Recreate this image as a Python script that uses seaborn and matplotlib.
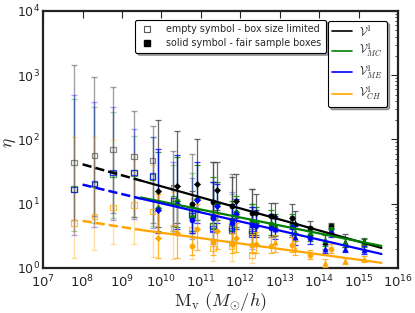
import matplotlib
matplotlib.use("Agg")
import matplotlib.pyplot as plt
from matplotlib.lines import Line2D
import seaborn as sns
import numpy as np

# ---------------- data ----------------
M_EMPTY = [6e7, 2e8, 6e8, 2e9, 6e9, 2e10, 6e10, 2e11, 6e11, 2e12]
V1_E = [44, 56, 70, 54, 47, 18, 8, 4.5, 4.1, 3.7]
MC_E = [17, 20, 29, 30, 26, 12, 7, 4.6, 4.3, 3.9]
ME_E = [16.5, 20.5, 30.5, 30.5, 27, 11, 6.5, 4.0, 3.8, 3.4]
CH_E = [5.0, 6.3, 8.7, 9.6, 7.5, 4.2, 3.9, 2.0, 2.2, 1.6]
V1_E_HI = [1440, 930, 650, 275, 160, 65, 60, 45, 29, 17]
MC_E_HI = [420, 315, 265, 115, 108, 40, 30, 22, 14, 10]
ME_E_HI = [490, 380, 315, 145, 110, 44, 25, 22, 15, 9]
CH_E_HI = [110, 108, 97, 60, 40, 15, 12, 8, 6, 4]
V1_E_LO = [5.5, 6.5, 7.2, 6.3, 5.0, 4.5, 3.5, 2.8, 2.6, 2.4]
MC_E_LO = [3.7, 5.0, 6.0, 6.3, 4.5, 3.8, 3.0, 2.6, 2.4, 2.2]
ME_E_LO = [3.2, 4.4, 5.6, 5.8, 4.2, 3.5, 2.8, 2.4, 2.3, 2.0]
CH_E_LO = [1.43, 1.9, 2.4, 2.4, 1.5, 1.4, 1.4, 1.3, 1.3, 1.2]

M_SOLID = [8e9, 2.5e10, 6e10, 8e10, 2e11, 2.5e11, 6e11, 8e11, 2e12, 2.5e12,
           6e12, 7.5e12, 2e13, 2.5e13, 6e13, 1.4e14, 2e14, 4.6e14, 1.4e15]
MK_SOLID = ['D', 'D', 'o', 'D', 'o', 'D', 'o', 'D', 'o', 'D',
            'o', '^', 'o', '^', 'o', '^', 'o', '^', '^']
V1_S = [15.5, 19, 10, 20.6, 10.7, 16.5, 9.3, 11.1, 7.2, 7.2, 6.5, 6.5, 6.0, 5.0, 4.2, 2.5, 4.5, 2.5, 2.6]
V1_S_HI = [200, 133, 16, 100, 45, 45, 26, 29, 17, 14, 10.4, 10.4, 10, 7.8, 5.4, 3.4, 5.0, 3.4, 2.8]
V1_S_LO = [4.4, 5, 6, 8, 6, 8, 5.5, 6, 4.5, 4.5, 4.2, 4.2, 4.0, 3.5, 3.3, 2.0, 4.0, 2.1, 2.3]
MC_S = [8.6, 11, 6.2, 12, 6.5, 9.8, 5.6, 7.5, 5.3, 5.0, 4.8, 4.6, 4.8, 3.6, 3.3, 2.7, 4.0, 2.5, 2.5]
MC_S_HI = [63, 54, 10, 40, 26, 22, 11, 13, 10, 9, 8, 7, 7, 5, 4.3, 3.2, 4.8, 2.9, 2.9]
MC_S_LO = [3.8, 4.3, 3.8, 5.5, 4.0, 5.5, 3.8, 4.3, 3.5, 3.3, 3.3, 3.1, 3.3, 2.6, 2.6, 2.2, 3.4, 2.1, 2.1]
ME_S = [8.1, 10, 5.6, 11.5, 6, 9.3, 5, 7, 4.7, 4.5, 4.2, 4.0, 4.4, 3.0, 2.9, 2.0, 3.5, 2.0, 1.9]
ME_S_HI = [72, 58, 9, 45, 22, 20, 10, 12, 9, 8, 7, 6.5, 6, 4.5, 3.8, 2.4, 4.2, 2.3, 2.2]
ME_S_LO = [3.5, 4, 3.5, 5, 3.8, 5, 3.5, 4, 3.2, 3.0, 3.0, 2.8, 3.0, 2.3, 2.4, 1.7, 3.0, 1.75, 1.65]
CH_S = [2.9, 3.5, 2.2, 4.1, 2.5, 3.8, 2.4, 2.9, 2.3, 2.4, 2.2, 2.5, 2.3, 2.0, 1.6, 1.2, 2.0, 1.3, 1.4]
CH_S_HI = [14, 12, 3, 10, 6, 7, 3.5, 5, 3.4, 3.6, 3.0, 3.3, 3.0, 2.6, 1.9, 1.4, 2.4, 1.45, 1.55]
CH_S_LO = [1.43, 1.45, 1.6, 1.9, 1.6, 2.0, 1.7, 1.8, 1.7, 1.7, 1.7, 1.8, 1.8, 1.6, 1.4, 1.05, 1.7, 1.15, 1.25]

# fitted power-law lines (end points)
LINE_M_DASH = [1e8, 3e9]
LINE_M_SOLID = [3e9, 3.8e15]
V1_DASH = [41, 22.9]
ME_DASH = [19.8, 12.0]
CH_DASH = [5.4, 3.9]
V1_LINE = [22.9, 2.05]
MC_LINE = [12.5, 2.2]
ME_LINE = [12.0, 1.65]
CH_LINE = [3.9, 1.2]

LABELS = [r'$\mathcal{V}^1$', r'$\mathcal{V}^1_{MC}$', r'$\mathcal{V}^1_{ME}$', r'$\mathcal{V}^1_{CH}$']
COLORS = ['black', 'green', 'blue', 'orange']
LEGEND1 = ['empty symbol - box size limited', 'solid symbol - fair sample boxes']

# ---------------- figure ----------------
sns.set_style('white')
plt.rcParams['mathtext.fontset'] = 'cm'
plt.rcParams['font.family'] = ['DejaVu Sans']

fig = plt.figure(figsize=(4.15, 3.13), dpi=100)
ax = fig.add_axes([0.104, 0.144, 0.855, 0.821])
ax.set_xscale('log')
ax.set_yscale('log')

empty = [(V1_E, V1_E_LO, V1_E_HI), (MC_E, MC_E_LO, MC_E_HI),
         (ME_E, ME_E_LO, ME_E_HI), (CH_E, CH_E_LO, CH_E_HI)]
solid = [(V1_S, V1_S_LO, V1_S_HI), (MC_S, MC_S_LO, MC_S_HI),
         (ME_S, ME_S_LO, ME_S_HI), (CH_S, CH_S_LO, CH_S_HI)]

# empty symbols (lighter)
for (v, lo, hi), c in zip(empty, COLORS):
    v = np.array(v); lo = np.array(lo); hi = np.array(hi)
    ec = '#555555' if c == 'black' else c
    ax.errorbar(M_EMPTY, v, yerr=[v - lo, hi - v], fmt='none', ecolor=ec,
                alpha=0.35 if c != 'black' else 0.55, capsize=2.5, elinewidth=1.0,
                capthick=1.0, zorder=2)
    ax.scatter(M_EMPTY, v, marker='s', s=16, facecolors='none',
               edgecolors=ec, linewidths=0.9, alpha=0.7, zorder=3)

# solid symbols
for (v, lo, hi), c in zip(solid, COLORS):
    v = np.array(v); lo = np.array(lo); hi = np.array(hi)
    ec = '#444444' if c == 'black' else c
    ax.errorbar(M_SOLID, v, yerr=[v - lo, hi - v], fmt='none', ecolor=ec,
                alpha=0.8, capsize=2.5, elinewidth=0.9, capthick=0.9, zorder=4)
    for mk in ['D', 'o', '^']:
        idx = [i for i, m in enumerate(MK_SOLID) if m == mk]
        sns.scatterplot(x=[M_SOLID[i] for i in idx], y=[v[i] for i in idx],
                        marker=mk, s=14 if mk != 'D' else 10, color=c,
                        edgecolor=c, linewidth=0.4, ax=ax, zorder=5, legend=False)

# fit lines
for yv, c in zip([V1_DASH, ME_DASH, CH_DASH], ['black', 'blue', 'orange']):
    sns.lineplot(x=LINE_M_DASH, y=yv, color=c, linestyle='--', linewidth=1.8,
                 ax=ax, zorder=6, legend=False)
for yv, c in zip([V1_LINE, MC_LINE, ME_LINE, CH_LINE], COLORS):
    sns.lineplot(x=LINE_M_SOLID, y=yv, color=c, linewidth=1.6,
                 ax=ax, zorder=6, legend=False)

ax.set_xlim(1e7, 1e16)
ax.set_ylim(1, 1e4)
ax.set_xticks([10.0 ** k for k in range(7, 17)])
ax.set_yticks([10.0 ** k for k in range(0, 5)])
ax.tick_params(which='both', direction='in', top=True, right=True)
ax.tick_params(axis='x', labelsize=9.5, pad=4)
ax.tick_params(axis='y', labelsize=9, pad=2.5)
ax.tick_params(which='major', length=5, width=0.8)
ax.tick_params(which='minor', length=2.5, width=0.6)
for sp in ax.spines.values():
    sp.set_linewidth(1.6)
    sp.set_color('#222222')

ax.set_ylabel('')
fig.text(9 / 415, 0.545, r'$\eta$', fontsize=12.5, rotation=90, ha='center', va='center')
ax.set_xlabel(r'$\mathrm{M_v}\ (M_{\odot}/h)$', fontsize=13, labelpad=0)

# legends
h1 = [Line2D([], [], marker='s', linestyle='none', markerfacecolor='none',
             markeredgecolor='#555555', markersize=4, markeredgewidth=0.8),
      Line2D([], [], marker='s', linestyle='none', color='black', markersize=4)]
leg1 = ax.legend(h1, LEGEND1, loc='upper left', bbox_to_anchor=(0.245, 0.985),
                 fontsize=6.9, frameon=True, fancybox=True, shadow=True, framealpha=1,
                 edgecolor='black', handletextpad=1.2, handlelength=1.6,
                 borderpad=0.45, labelspacing=0.45)
leg1.get_frame().set_linewidth(0.8)
ax.add_artist(leg1)

h2 = [Line2D([], [], color=c, linewidth=1.2) for c in COLORS]
leg2 = ax.legend(h2, LABELS, loc='upper right', bbox_to_anchor=(0.985, 0.985),
                 fontsize=8.3, frameon=True, fancybox=True, shadow=True, framealpha=1,
                 edgecolor='black', handlelength=1.8, handletextpad=0.6,
                 borderpad=0.35, labelspacing=0.3)
leg2.get_frame().set_linewidth(0.8)

fig.savefig('out.png', dpi=100)
